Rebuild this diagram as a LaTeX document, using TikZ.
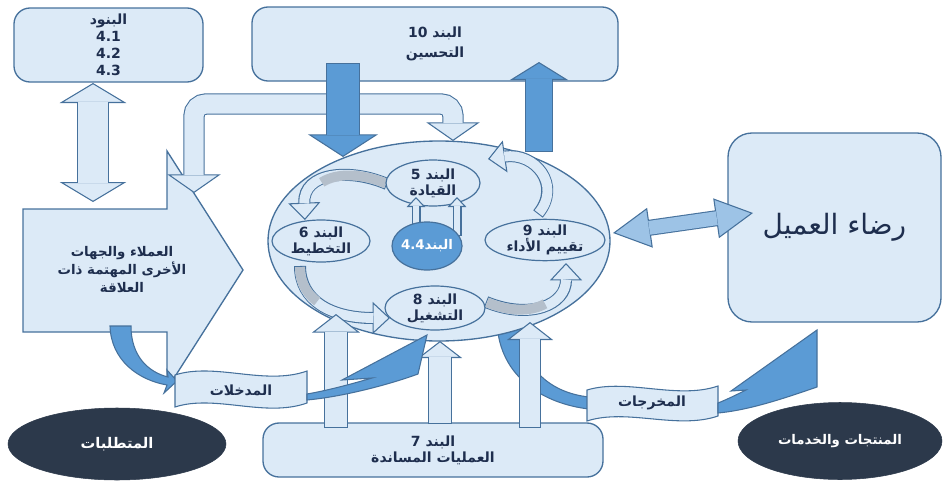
\documentclass[tikz,border=0pt]{standalone}
\usepackage{fontspec}
\newfontfamily\arabicfont[Script=Arabic]{DejaVu Sans}
\TeXXeTstate=1
\usetikzlibrary{shapes.geometric,arrows.meta}

\definecolor{lightblue}{RGB}{220,234,247}
\definecolor{edgeblue}{RGB}{70,113,156}
\definecolor{darkfill}{RGB}{91,155,213}
\definecolor{midfill}{RGB}{157,195,230}
\definecolor{graybar}{RGB}{180,191,203}
\definecolor{slate}{RGB}{44,57,75}
\definecolor{navy}{RGB}{30,46,78}

\tikzset{
  panel/.style={draw=edgeblue, fill=lightblue, line width=1pt, rounded corners=12pt, text=navy, align=center},
  ringell/.style={ellipse, draw=edgeblue, fill=lightblue, line width=1pt},
  inell/.style={ellipse, draw=edgeblue, fill=lightblue, line width=0.9pt, inner sep=0pt},
  inlbl/.style={text=navy, align=center, inner sep=0pt, font=\arabicfont\bfseries\fontsize{10.5}{12}\selectfont},
  darkell/.style={ellipse, draw=slate, fill=slate, text=white, inner sep=0pt, font=\arabicfont\bfseries\fontsize{11}{13}\selectfont},
  banner/.style={text=navy, font=\arabicfont\bfseries\fontsize{10.5}{12}\selectfont},
  lightshape/.style={draw=edgeblue, fill=lightblue, line width=0.8pt},
  darkshape/.style={draw=edgeblue, fill=darkfill, line width=0.8pt},
  blk/.style n args={4}{draw=edgeblue, line width=#1,
    -{Triangle[width=#2, length=#3, line width'=0.8pt, fill=#4]},
    postaction={draw=#4, line width=#1-1.6pt, -, shorten >=#3-0.6pt, shorten <=0.8pt}},
  dblk/.style n args={4}{draw=edgeblue, line width=#1,
    {Triangle[width=#2, length=#3, line width'=0.8pt, fill=#4]}-{Triangle[width=#2, length=#3, line width'=0.8pt, fill=#4]},
    postaction={draw=#4, line width=#1-1.6pt, -, shorten >=#3-0.6pt, shorten <=#3-0.6pt}},
  graytail/.style={postaction={draw=graybar, line width=7.4pt, -, dash pattern=on #1 off 800pt, shorten <=0.8pt}},
}

\begin{document}
\begin{tikzpicture}[x=0.75pt, y=-0.75pt]
\useasboundingbox (0,0) rectangle (943,482);
% top boxes
\node[panel, minimum width=141.75pt, minimum height=55.5pt, font=\arabicfont\bfseries\fontsize{10.5}{12.75}\selectfont] (bnod) at (108.5,45) {البنود\\4.1\\4.2\\4.3};
\node[panel, minimum width=274.5pt, minimum height=55.5pt, font=\arabicfont\bfseries\fontsize{10.5}{15}\selectfont] (b10) at (435,44) {\beginR البند \beginL10\endL\endR\\التحسين};
\draw[dblk={24pt}{50pt}{15pt}{lightblue}] (93,83) -- (93,202);
% clients arrow
\draw[lightshape, line width=1pt] (23,209) -- (167,209) -- (167,151) -- (243,270) -- (167,389) -- (167,332) -- (23,332) -- cycle;
\node[text=navy, align=center, font=\arabicfont\bfseries\fontsize{10}{13.5}\selectfont] (clients) at (122,270)
  {\beginR العملاء والجهات\endR\\\beginR الأخرى المهتمة ذات\endR\\\beginR العلاقة\endR};
\draw[darkshape] (110,326) .. controls (111,360) and (138,380) .. (167,385) -- (164,393) -- (177,381) -- (167,370) -- (168,377) .. controls (148,372) and (131,356) .. (131,326) -- cycle;
\draw[dblk={16pt}{40pt}{14pt}{lightblue}, rounded corners=9pt] (194,193) -- (194,104) -- (453,104) -- (453,141);
% ring
\draw[darkshape] (497,322) .. controls (499,378) and (545,404) .. (589,409) -- (589,397) .. controls (552,393) and (521,370) .. (519,322) -- cycle;
\node[ringell, minimum width=256.5pt, minimum height=150pt] (ring) at (439,241) {};
\draw[blk={9pt}{24pt}{13pt}{lightblue}, graytail=50pt] (387,184) .. controls (350,168) and (303,172) .. (305,220);
\draw[blk={9pt}{24pt}{13pt}{lightblue}, graytail=30pt] (300,266) .. controls (300,300) and (330,318) .. (390,318);
\draw[blk={9pt}{24pt}{13pt}{lightblue}, graytail=45pt] (486,302) .. controls (530,320) and (566,305) .. (566,263);
\draw[blk={9pt}{24pt}{13pt}{lightblue}] (538,214) .. controls (562,185) and (535,152) .. (488,159);
\node[inell, minimum width=70.5pt, minimum height=34.5pt] (b5) at (433,183) {};
\node[inell, minimum width=73.5pt, minimum height=31.5pt] (b6) at (321,241) {};
\node[inell, minimum width=90pt, minimum height=31pt] (b9) at (545,240) {};
\node[inell, minimum width=75pt, minimum height=33pt] (b8) at (435,308) {};
\node[inlbl] (t5) at (b5) {\beginR البند \beginL5\endL\endR\\القيادة};
\node[inlbl] (t6) at (b6) {\beginR البند \beginL6\endL\endR\\التخطيط};
\node[inlbl] (t9) at (b9) {\beginR البند \beginL9\endL\endR\\\beginR تقييم الأداء\endR};
\node[inlbl] (t8) at (b8) {\beginR البند \beginL8\endL\endR\\التشغيل};
\draw[blk={6.75pt}{14pt}{7.5pt}{lightblue}] (416,232) -- (416,197);
\draw[blk={6.75pt}{14pt}{7.5pt}{lightblue}] (457,236) -- (457,197);
\node[inell, fill=darkfill, minimum width=52.5pt, minimum height=36pt] (b44) at (427,246) {};
\node[inlbl, text=white, font=\arabicfont\bfseries\fontsize{10}{12}\selectfont] (t44) at (b44) {\beginR البند\beginL4.4\endL\endR};
\draw[blk={25.5pt}{52.5pt}{17pt}{darkfill}] (343,63) -- (343,157);
\draw[blk={21pt}{43.5pt}{13.5pt}{darkfill}] (539,152) -- (539,62);
% support
\node[panel, minimum width=255pt, minimum height=40.5pt, font=\arabicfont\bfseries\fontsize{10.5}{12}\selectfont] (b7) at (433,450) {\beginR البند \beginL7\endL\endR\\\beginR العمليات المساندة\endR};
\draw[blk={18pt}{36pt}{14pt}{lightblue}] (336,428) -- (336,314);
\draw[blk={18pt}{33pt}{12.75pt}{lightblue}] (440,424) -- (440,341);
\draw[blk={16.5pt}{34.5pt}{13.5pt}{lightblue}] (530,428) -- (530,322);
% inputs / outputs
\draw[lightshape] (175,375) .. controls (215,362) and (265,386) .. (307,371) -- (307,403) .. controls (265,418) and (215,394) .. (175,407) -- cycle;
\node[banner] (inp) at (241,390) {المدخلات};
\draw[darkshape] (307,394) .. controls (330,390) and (355,383) .. (372,378) -- (342,380) -- (427,335) -- (418,374) .. controls (385,386) and (340,397) .. (307,400) -- cycle;
\draw[lightshape] (587,390) .. controls (627,378) and (677,400) .. (718,386) -- (718,416) .. controls (677,430) and (627,408) .. (587,421) -- cycle;
\node[banner] (outp) at (652,403) {المخرجات};
\draw[darkshape] (718,403) .. controls (728,399) and (738,394) .. (746,390) -- (731,391) -- (817,330) -- (817,387) .. controls (785,398) and (750,410) .. (718,413) -- cycle;
% customer
\node[panel, rounded corners=18pt, minimum width=159.75pt, minimum height=141.75pt, font=\arabicfont\fontsize{21}{24}\selectfont] (rida) at (834.5,227.5) {\beginR رضاء العميل\endR};
\draw[dblk={12pt}{30pt}{28pt}{midfill}] (613,233) -- (753,213);
\node[darkell, minimum width=163.5pt, minimum height=54pt] (req) at (117,444) {المتطلبات};
\node[darkell, font=\arabicfont\bfseries\fontsize{10}{12}\selectfont, minimum width=153pt, minimum height=57.75pt] (prod) at (840,441) {\beginR المنتجات والخدمات\endR};
\end{tikzpicture}
\end{document}
